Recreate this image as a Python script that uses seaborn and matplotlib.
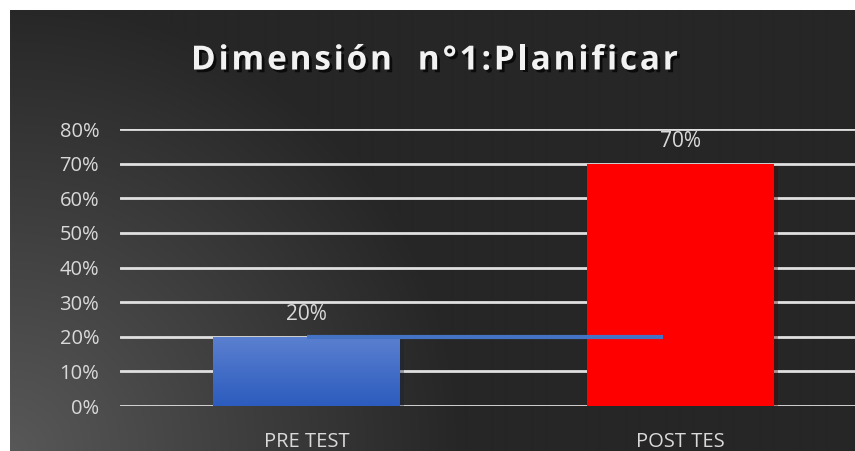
import numpy as np
import pandas as pd
import matplotlib
matplotlib.use("Agg")
import matplotlib.pyplot as plt
import matplotlib.patheffects as pe
import seaborn as sns

categories = ["PRE TEST", "POST TES"]
values = [0.20, 0.70]
bar_colors = ["#3f6cc8", "#ff0000"]
line_x = [0, 0.954]
line_values = [0.20, 0.20]
yticks = [0.0, 0.1, 0.2, 0.3, 0.4, 0.5, 0.6, 0.7, 0.8]
title = "Dimensión  n°1:Planificar"

sns.set_theme(style="white")
plt.rcParams["font.family"] = ["Open Sans", "DejaVu Sans"]

W, H = 855, 451
fig = plt.figure(figsize=(W / 100, H / 100), dpi=100)

# background gradient
yy, xx = np.mgrid[0:H, 0:W]
r = np.hypot(xx - 10, yy - H)
v = np.clip(88 - 0.11 * r, 38, 88) / 255.0
img = np.dstack([v, v, v])
img[:10, :, :] = 1.0
img[:, :10, :] = 1.0
ax_bg = fig.add_axes([0, 0, 1, 1], zorder=0)
ax_bg.imshow(img, aspect="auto", interpolation="bilinear")
ax_bg.axis("off")

ax = fig.add_axes([120 / W, 45 / H, 735 / W, 277 / H], zorder=1)
ax.patch.set_alpha(0)

df = pd.DataFrame({"cat": categories, "val": values})
sns.barplot(data=df, x="cat", y="val", hue="cat", palette=bar_colors,
            width=0.5, legend=False, ax=ax, saturation=1, zorder=3)

# gradient on blue bar
p0 = ax.patches[0]
bx, by = p0.get_x(), p0.get_y()
bw, bh = p0.get_width(), p0.get_height()
grad = np.linspace(0, 1, 100)[:, None]
top = np.array([0x5b, 0x80, 0xd0]) / 255
bot = np.array([0x2c, 0x5c, 0xbe]) / 255
gimg = top[None, None, :] * (1 - grad[..., None]) + bot[None, None, :] * grad[..., None]
gimg = np.repeat(gimg, 2, axis=1)
im = ax.imshow(gimg, extent=[bx, bx + bw, by, by + bh], aspect="auto", zorder=3.5,
               origin="upper")
im.set_clip_path(p0)

for p in ax.patches:
    p.set_path_effects([pe.SimplePatchShadow(offset=(3, -2), alpha=0.35), pe.Normal()])
    p.set_linewidth(0)

ax.plot(line_x, line_values, color="#4472c4", lw=3, zorder=5, solid_capstyle="butt")

for i, val in enumerate(values):
    ax.annotate(f"{val:.0%}", (i, val), xytext=(0, 16), textcoords="offset points",
                ha="center", va="center", color="#d9d9d9", fontsize=15)

ax.set_xlim(-0.5, 1.468)
ax.set_ylim(0, 0.8)
ax.set_yticks(yticks)
ax.set_yticklabels([f"{t:.0%}" for t in yticks])
ax.yaxis.grid(True, color="#e0e0e0", lw=2)
ax.set_axisbelow(True)
for s in ax.spines.values():
    s.set_visible(False)
ax.tick_params(axis="y", length=0, pad=15, labelsize=14.5, labelcolor="#d9d9d9")
ax.tick_params(axis="x", length=0, pad=19, labelsize=14.5, labelcolor="#d9d9d9")
ax.set_xlabel("")
ax.set_ylabel("")

# letter-spaced title
renderer = fig.canvas.get_renderer()
fs = 24
tstyle = dict(color="#f2f2f2", fontsize=fs, fontweight="bold", va="center", ha="left",
              path_effects=[pe.withSimplePatchShadow(offset=(2, -2), shadow_rgbFace="black", alpha=0.7)])
left_px, right_px = 191, 678
ty = 1 - 61 / H
em = fs * 100 / 72
widths = []
for ch in title:
    if ch == " ":
        widths.append(0.26 * em)
        continue
    t = fig.text(0, 0, ch, **tstyle)
    widths.append(t.get_window_extent(renderer).width)
    t.remove()
spacing = ((right_px - left_px) - sum(widths)) / (len(title) - 1)
x = left_px
for ch, w in zip(title, widths):
    if ch != " ":
        fig.text(x / W, ty, ch, **tstyle)
    x += w + spacing

fig.savefig("out.png", dpi=100)
